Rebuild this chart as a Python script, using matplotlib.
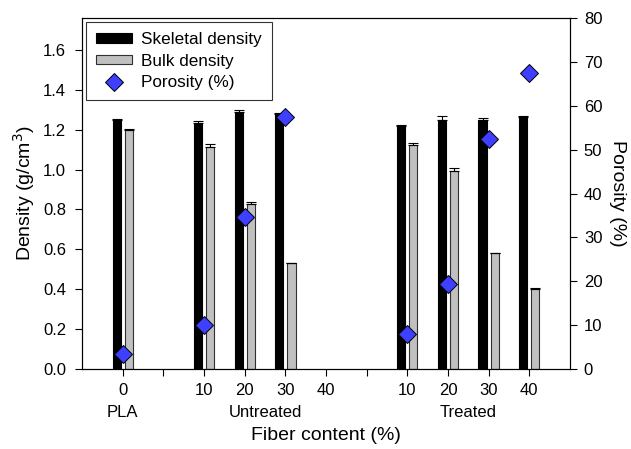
import numpy as np
import matplotlib.pyplot as plt
import matplotlib.transforms as mtransforms

plt.rcParams['font.family'] = ['Liberation Sans', 'DejaVu Sans']

# bar slots along the x axis (0 = PLA, 2-5 untreated, 7-10 treated)
positions = [0, 2, 3, 4, 7, 8, 9, 10]
tick_labels = ['0', '', '10', '20', '30', '40', '', '10', '20', '30', '40']
group_names = ['PLA', 'Untreated', 'Treated']
group_centers = [0, 3.5, 8.5]

skeletal = [1.25, 1.233, 1.29, 1.28, 1.22, 1.25, 1.25, 1.265]
skeletal_err = [0.004, 0.008, 0.01, 0.004, 0.004, 0.02, 0.01, 0.004]
bulk = [1.20, 1.115, 0.828, 0.53, 1.125, 0.995, 0.58, 0.40]
bulk_err = [0.004, 0.013, 0.008, 0.004, 0.007, 0.012, 0.004, 0.004]
porosity = [3.5, 10.0, 34.6, 57.5, 8.1, 19.4, 52.5, 67.5]

x = np.array(positions, dtype=float)
w = 0.2
off = 0.15

fig = plt.figure(figsize=(6.31, 4.49), dpi=100)
ax = fig.add_axes([0.130, 0.178, 0.7733, 0.782])

ax.bar(x - off, skeletal, w, color='black', edgecolor='black', linewidth=0.8,
       yerr=[np.zeros(len(x)), skeletal_err], capsize=3.5,
       error_kw=dict(ecolor='black', elinewidth=0.8, capthick=0.8),
       label='Skeletal density')
ax.bar(x + off, bulk, w, color='#c0c0c0', edgecolor='#303030', linewidth=0.8,
       yerr=[np.zeros(len(x)), bulk_err], capsize=3.5,
       error_kw=dict(ecolor='black', elinewidth=0.8, capthick=0.8),
       label='Bulk density')

ax.set_xlim(-1, 11)
ax.set_ylim(0, 1.76)
yt = np.arange(0, 1.61, 0.2)
ax.set_yticks(yt)
ax.set_yticklabels([f'{v:.1f}' for v in yt])
ax.set_xticks(np.arange(0, 11))
ax.set_xticklabels(tick_labels)
ax.tick_params(axis='both', direction='out', length=5, labelsize=12, width=0.8)
ax.tick_params(axis='x', pad=5)
ax.tick_params(axis='y', pad=6.5)
ax.set_ylabel('Density (g/cm$^3$)', fontsize=14, labelpad=4)
ax.set_xlabel('Fiber content (%)', fontsize=14, labelpad=21)

# group names under the fiber-content ticks
trans = mtransforms.blended_transform_factory(ax.transData, ax.transAxes)
for name, c in zip(group_names, group_centers):
    ax.text(c, -0.1225, name, ha='center', va='center', fontsize=12, transform=trans)

ax2 = ax.twinx()
ax2.plot(x, porosity, linestyle='none', marker='D', markersize=9,
         markerfacecolor='#3f3fff', markeredgecolor='black', markeredgewidth=0.7,
         label='Porosity (%)')
ax2.set_ylim(0, 80)
ax2.set_yticks(np.arange(0, 81, 10))
ax2.tick_params(axis='y', direction='out', length=5, labelsize=12, width=0.8, pad=5)
ax2.set_ylabel('Porosity (%)', fontsize=14, rotation=270, va='bottom', labelpad=5)

for a in (ax, ax2):
    for s in a.spines.values():
        s.set_linewidth(0.8)

h1, l1 = ax.get_legend_handles_labels()
h2, l2 = ax2.get_legend_handles_labels()
leg = ax.legend(h1 + h2, l1 + l2, loc='upper left', bbox_to_anchor=(0.008, 0.989),
                borderaxespad=0, fontsize=12.3, frameon=True, fancybox=False,
                edgecolor='black', handlelength=2.1, handleheight=0.5,
                handletextpad=0.5, borderpad=0.6, labelspacing=0.38)
leg.get_frame().set_linewidth(0.8)

fig.savefig('out.png', dpi=100)
